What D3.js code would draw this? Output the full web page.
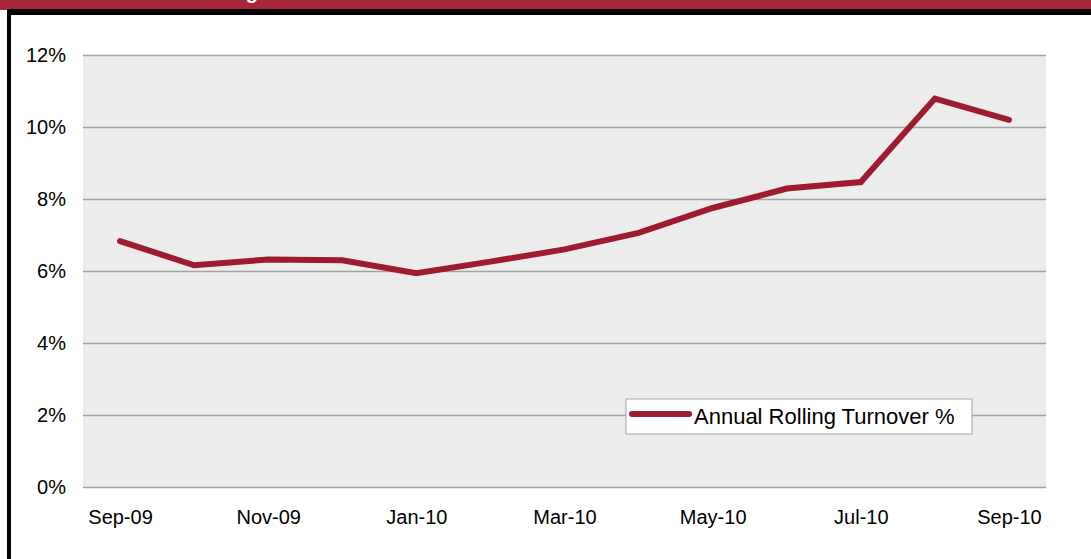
<!DOCTYPE html>
<html>
<head>
<meta charset="utf-8">
<script src="https://cdn.jsdelivr.net/npm/d3@7"></script>
<style>
  body { margin: 0; background: #fff; }
  svg { display: block; font-family: "Liberation Sans", Arial, sans-serif; }
</style>
</head>
<body>
<div id="chart"></div>
<script>
// monthly data
const months = ["Sep-09", "Oct-09", "Nov-09", "Dec-09", "Jan-10", "Feb-10", "Mar-10",
                "Apr-10", "May-10", "Jun-10", "Jul-10", "Aug-10", "Sep-10"]
const turnover = [6.83, 6.16, 6.32, 6.3, 5.94, 6.26, 6.6, 7.06, 7.75, 8.29, 8.47, 10.79, 10.2]
const xTickLabels = ["Sep-09", "Nov-09", "Jan-10", "Mar-10", "May-10", "Jul-10", "Sep-10"]
const yTicks = [0, 2, 4, 6, 8, 10, 12]
const seriesName = "Annual Rolling Turnover %"

function renderChart(frame_id) {
    let width = 1091
    let height = 559
    let plot = { left: 83, right: 1046, top: 55, bottom: 487 }
    let red = "#9e1b32"

    var svg = d3.select("#" + frame_id)
        .append("svg")
        .attr("width", width)
        .attr("height", height)

    // header band, cut off at the top (only a descender shows)
    svg.append("rect").attr("x", 0).attr("y", 0).attr("width", width).attr("height", 10).attr("fill", "#a6273a")
    svg.append("text")
        .attr("x", 258).attr("y", -1)
        .attr("text-anchor", "end")
        .attr("fill", "#fff")
        .style("font-weight", "bold")
        .style("font-size", "20px")
        .text("Rolling")
    svg.append("rect").attr("x", 7).attr("y", 9).attr("width", width - 7).attr("height", 6).attr("fill", "#000")
    svg.append("rect").attr("x", 7).attr("y", 9).attr("width", 4).attr("height", height - 9).attr("fill", "#000")

    var x = d3.scalePoint()
        .domain(months)
        .range([plot.left, plot.right])
        .padding(0.5)

    var y = d3.scaleLinear()
        .domain([0, 12])
        .range([plot.bottom, plot.top])

    svg.append("rect")
        .attr("x", plot.left).attr("y", plot.top)
        .attr("width", plot.right - plot.left).attr("height", plot.bottom - plot.top)
        .attr("fill", "#ececec")

    // gridlines + y labels
    var yAxis = svg.append("g")
        .attr("transform", "translate(" + plot.left + ",0)")
        .call(d3.axisLeft(y).tickValues(yTicks).tickSize(-(plot.right - plot.left)).tickPadding(17)
            .tickFormat(d => d + "%"))
    yAxis.select(".domain").remove()
    yAxis.selectAll("line").attr("stroke", "#a3a3a3").attr("stroke-width", 1.5)
    yAxis.selectAll("text")
        .attr("fill", "#000")
        .style("font-size", "20px")
        .style("font-family", "Liberation Sans, Arial, sans-serif")

    // x labels
    var xAxis = svg.append("g")
        .attr("transform", "translate(0," + plot.bottom + ")")
        .call(d3.axisBottom(x).tickValues(xTickLabels).tickSize(0).tickPadding(23))
    xAxis.select(".domain").remove()
    xAxis.selectAll("text")
        .attr("fill", "#000")
        .style("font-size", "20px")
        .style("font-family", "Liberation Sans, Arial, sans-serif")

    var line = d3.line()
        .x((d, i) => x(months[i]))
        .y(d => y(d))

    svg.append("path")
        .datum(turnover)
        .attr("d", line)
        .attr("fill", "none")
        .attr("stroke", red)
        .attr("stroke-width", 6)
        .attr("stroke-linecap", "round")
        .attr("stroke-linejoin", "miter")

    // legend
    var legend = svg.append("g").attr("transform", "translate(626,399)")
    legend.append("rect")
        .attr("width", 346).attr("height", 35)
        .attr("fill", "#fff")
        .attr("stroke", "#a3a3a3")
        .attr("stroke-width", 1)
    legend.append("line")
        .attr("x1", 6).attr("x2", 63).attr("y1", 15).attr("y2", 15)
        .attr("stroke", red)
        .attr("stroke-width", 6)
        .attr("stroke-linecap", "round")
    legend.append("text")
        .attr("x", 68).attr("y", 25)
        .style("font-size", "22px")
        .text(seriesName)
}

document.addEventListener('DOMContentLoaded', function () { renderChart("chart") }, false);
</script>
</body>
</html>
